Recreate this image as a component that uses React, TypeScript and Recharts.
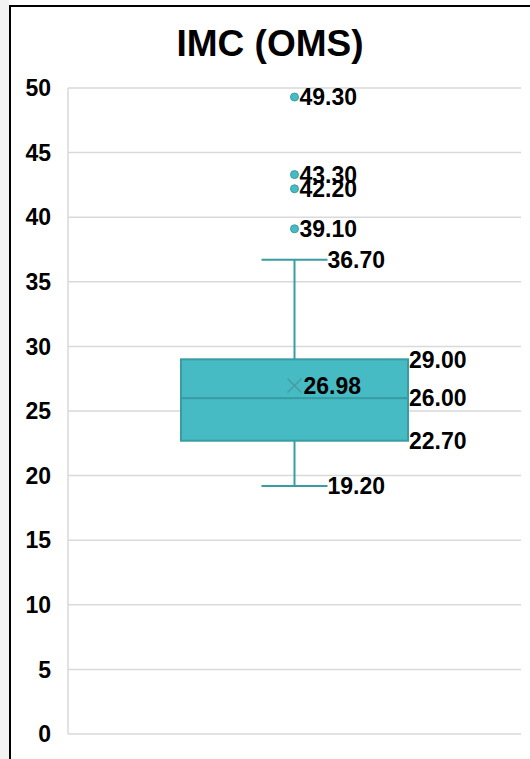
import React from 'react';
import {
  ComposedChart,
  Bar,
  Scatter,
  XAxis,
  YAxis,
  CartesianGrid,
  LabelList,
} from 'recharts';

// box plot values
const categories = ['IMC (OMS)'];
const whiskerMin = [19.2];
const quartile1 = [22.7];
const medians = [26.0];
const quartile3 = [29.0];
const whiskerMax = [36.7];
const means = [26.98];
const outliers = [39.1, 42.2, 43.3, 49.3];
const yTicks = [0, 5, 10, 15, 20, 25, 30, 35, 40, 45, 50];

const FONT = '"Liberation Sans", Arial, sans-serif';
const TEAL = '#47bbc4';
const TEAL_DARK = '#3a9ca3';

const chartData = categories.map((name, i) => ({
  name,
  base: whiskerMin[i],
  lowerWhisker: quartile1[i] - whiskerMin[i],
  lowerBox: medians[i] - quartile1[i],
  upperBox: quartile3[i] - medians[i],
  upperWhisker: whiskerMax[i] - quartile3[i],
}));

const outlierData = outliers.map((value) => ({ name: categories[0], value }));
const meanData = categories.map((name, i) => ({ name, value: means[i] }));

const fmt = (v: number) => v.toFixed(2);

const labelStyle = { fontFamily: FONT, fontWeight: 700, fontSize: 23, fill: '#000' };

// whisker segment: vertical line plus a cap at one end
const Whisker = (capAt: 'top' | 'bottom') => (props: any) => {
  const { x, y, width, height } = props;
  const cx = x + width / 2;
  const capY = capAt === 'top' ? y : y + height;
  return (
    <g>
      <line x1={cx} x2={cx} y1={y} y2={y + height} stroke={TEAL_DARK} strokeWidth={2} />
      <line x1={cx - 33} x2={cx + 33} y1={capY} y2={capY} stroke={TEAL_DARK} strokeWidth={2} />
    </g>
  );
};

const BoxPart = (props: any) => {
  const { x, y, width, height } = props;
  return <rect x={x} y={y} width={width} height={height} fill={TEAL} stroke={TEAL_DARK} strokeWidth={2} />;
};

const whiskerLabel = (capAt: 'top' | 'bottom', values: number[]) => (props: any) => {
  const { x, y, width, height, index } = props;
  const ty = capAt === 'top' ? y : y + height;
  return (
    <text x={x + width / 2 + 33} y={ty} dy="0.36em" textAnchor="start" style={labelStyle}>
      {fmt(values[index])}
    </text>
  );
};

const boxLabel = (values: number[], atTop: boolean) => (props: any) => {
  const { x, y, width, height, index } = props;
  const ty = atTop ? y : y + height;
  return (
    <text x={x + width + 1} y={ty} dy="0.36em" textAnchor="start" style={labelStyle}>
      {fmt(values[index])}
    </text>
  );
};

const OutlierDot = (props: any) => {
  const { cx, cy, payload } = props;
  return (
    <g>
      <circle cx={cx} cy={cy} r={4} fill={TEAL} stroke={TEAL_DARK} strokeWidth={1} />
      <text x={cx + 5} y={cy} dy="0.36em" textAnchor="start" style={labelStyle}>
        {fmt(payload.value)}
      </text>
    </g>
  );
};

const MeanMark = (props: any) => {
  const { cx, cy, payload } = props;
  return (
    <g>
      <line x1={cx - 7} y1={cy - 7} x2={cx + 7} y2={cy + 7} stroke="#4b9a9f" strokeWidth={1.5} />
      <line x1={cx - 7} y1={cy + 7} x2={cx + 7} y2={cy - 7} stroke="#4b9a9f" strokeWidth={1.5} />
      <text x={cx + 9} y={cy} dy="0.36em" textAnchor="start" style={labelStyle}>
        {fmt(payload.value)}
      </text>
    </g>
  );
};

export default function App() {
  return (
    <div style={{ position: 'absolute', left: 0, top: 0, width: 530, height: 759, overflow: 'hidden', background: '#fff' }}>
      <div style={{ position: 'absolute', left: 0, top: 0, width: 9, height: 759, background: '#f3f3f3' }} />
      <div
        style={{
          position: 'absolute',
          left: 9,
          top: 5,
          width: 540,
          height: 780,
          borderLeft: '2px solid #000',
          borderTop: '2px solid #000',
          background: '#fff',
        }}
      />
      <div
        style={{
          position: 'absolute',
          left: 9,
          top: 25,
          width: 522,
          textAlign: 'center',
          fontFamily: FONT,
          fontWeight: 700,
          fontSize: 37,
          lineHeight: '37px',
          color: '#000',
        }}
      >
        IMC (OMS)
      </div>
      <div style={{ position: 'absolute', left: 0, top: 0 }}>
        <ComposedChart
          width={530}
          height={759}
          data={chartData}
          margin={{ top: 88, right: 9, bottom: 25, left: 8 }}
        >
          <CartesianGrid vertical={false} stroke="#d9d9d9" strokeWidth={1.5} />
          <XAxis dataKey="name" type="category" allowDuplicatedCategory={false} hide />
          <YAxis
            type="number"
            domain={[0, 50]}
            ticks={yTicks}
            width={60}
            interval={0}
            tickLine={false}
            axisLine={{ stroke: '#d9d9d9', strokeWidth: 1.5 }}
            tickMargin={11}
            tick={{ fontFamily: FONT, fontWeight: 700, fontSize: 23, fill: '#000' }}
          />
          <Bar dataKey="base" stackId="box" barSize={227} fill="transparent" isAnimationActive={false} />
          <Bar dataKey="lowerWhisker" stackId="box" barSize={227} shape={Whisker('bottom')} isAnimationActive={false}>
            <LabelList content={whiskerLabel('bottom', whiskerMin)} />
          </Bar>
          <Bar dataKey="lowerBox" stackId="box" barSize={227} shape={BoxPart} isAnimationActive={false}>
            <LabelList content={boxLabel(quartile1, false)} />
            <LabelList content={boxLabel(medians, true)} />
          </Bar>
          <Bar dataKey="upperBox" stackId="box" barSize={227} shape={BoxPart} isAnimationActive={false}>
            <LabelList content={boxLabel(quartile3, true)} />
          </Bar>
          <Bar dataKey="upperWhisker" stackId="box" barSize={227} shape={Whisker('top')} isAnimationActive={false}>
            <LabelList content={whiskerLabel('top', whiskerMax)} />
          </Bar>
          <Scatter data={outlierData} dataKey="value" shape={OutlierDot} isAnimationActive={false} />
          <Scatter data={meanData} dataKey="value" shape={MeanMark} isAnimationActive={false} />
        </ComposedChart>
      </div>
    </div>
  );
}
